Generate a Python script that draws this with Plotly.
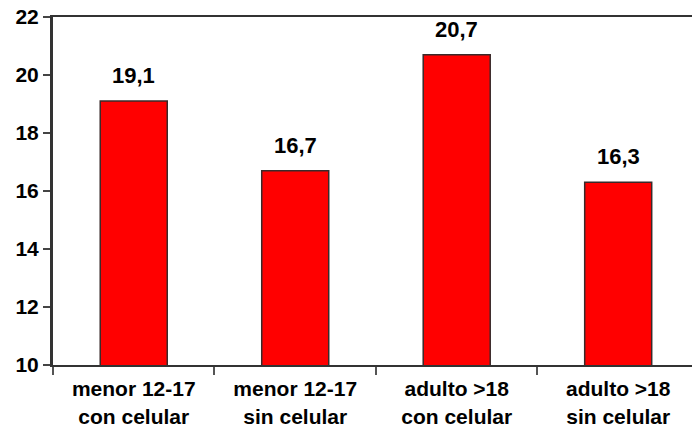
import plotly.graph_objects as go

categories = ["menor 12-17<br>con celular", "menor 12-17<br>sin celular",
              "adulto >18<br>con celular", "adulto >18<br>sin celular"]
values = [19.1, 16.7, 20.7, 16.3]
value_labels = ["19,1", "16,7", "20,7", "16,3"]
y_ticks = [10, 12, 14, 16, 18, 20, 22]

FONT = "Arial, Liberation Sans, sans-serif"

fig = go.Figure()
fig.add_trace(go.Bar(
    x=categories, y=values, width=0.415,
    marker=dict(color="#ff0000", line=dict(color="#3a2a2a", width=1.5)),
    hoverinfo="skip",
))

for c, v, t in zip(categories, values, value_labels):
    fig.add_annotation(x=c, y=v, text="<b>%s</b>" % t, showarrow=False,
                       yanchor="bottom", yshift=11,
                       font=dict(family=FONT, size=22, color="#000"))

fig.update_layout(
    width=692, height=441,
    margin=dict(l=53, r=0, t=17, b=76),
    paper_bgcolor="white", plot_bgcolor="white",
    showlegend=False,
    font=dict(family=FONT, color="#000"),
)
fig.update_xaxes(
    range=[-0.5, 3.457], showgrid=False,
    showline=True, linecolor="#333", linewidth=2, mirror=True,
    ticks="outside", tickson="boundaries", ticklen=8, tickwidth=2, tickcolor="#555",
    tickfont=dict(family=FONT, size=21, color="#000"),
    ticklabelstandoff=4,
    tickvals=categories, ticktext=["<b>%s</b>" % c for c in categories],
)
fig.update_yaxes(
    range=[10, 22], tickvals=y_ticks, ticktext=["<b>%d</b>" % v for v in y_ticks],
    showgrid=False, zeroline=False,
    showline=True, linecolor="#333", linewidth=3,
    ticks="outside", ticklen=7, tickwidth=2, tickcolor="#444",
    tickfont=dict(family=FONT, size=21, color="#000"),
)

fig.write_html("out.html")
